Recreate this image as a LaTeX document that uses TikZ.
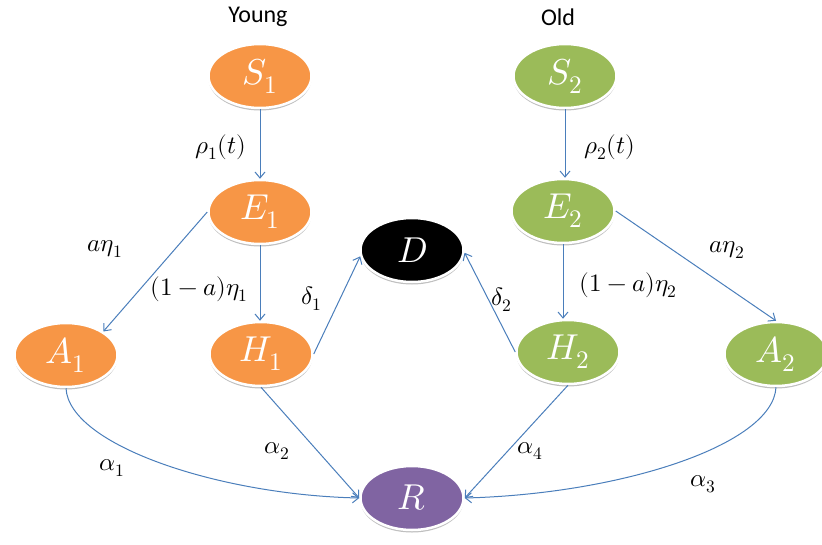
\documentclass[tikz,border=0pt]{standalone}
\usepackage{fontspec}
\usepackage{unicode-math}
\setmathfont{Latin Modern Math}
\newfontfamily\calib{Carlito}
\usetikzlibrary{shapes.geometric,arrows.meta,shadows}
\definecolor{ornj}{HTML}{F79646}
\definecolor{grn}{HTML}{9BBB59}
\definecolor{purp}{HTML}{8064A2}
\definecolor{arrowblue}{HTML}{4A7EBB}
\begin{document}
\begin{tikzpicture}[x=1pt,y=-1pt,
  state/.style={ellipse, draw=white, line width=2.5pt, minimum width=103pt, minimum height=64pt,
    inner sep=0pt, text=white, font=\fontsize{36}{42}\selectfont,
    drop shadow={shadow xshift=0pt, shadow yshift=-2.5pt, opacity=0.25, fill=black}},
  flow/.style={draw=arrowblue, line width=1pt, -{Straight Barb[length=6pt,width=10pt]}},
  lbl/.style={font=\fontsize{25}{30}\selectfont, inner sep=0pt},
  grp/.style={font=\calib\fontsize{24}{28}\selectfont, inner sep=0pt}]
\useasboundingbox (0,0) rectangle (822,544);

% group titles
\node[grp] (young) at (258,17) {Young};
\node[grp] (old) at (558,17) {Old};

% states
\node[state, fill=ornj] (S1) at (260,76) {$S_1$};
\node[state, fill=ornj] (E1) at (260,212) {$E_1$};
\node[state, fill=ornj] (A1) at (66,355) {$A_1$};
\node[state, fill=ornj] (H1) at (261,354) {$H_1$};
\node[state, fill=black] (D) at (412,250) {$D$};
\node[state, fill=purp] (R) at (412,498) {$R$};
\node[state, fill=grn] (S2) at (565,76) {$S_2$};
\node[state, fill=grn] (E2) at (563,211) {$E_2$};
\node[state, fill=grn] (H2) at (568,352) {$H_2$};
\node[state, fill=grn] (A2) at (776,354) {$A_2$};

% flows
\draw[flow] (S1) -- (E1);
\draw[flow] (E1.south) -- (E1.south |- H1.north);
\draw[flow] (E1.west) -- (A1.north east);
\draw[flow] (S2) -- (S2 |- E2.north);
\draw[flow] (E2.south) -- (E2.south |- H2.north);
\draw[flow] (E2.east) -- (A2.north);
\draw[flow] (H1.east) -- (D.187);
\draw[flow] (H2.west) -- (D.-3);
\draw[flow] (A1.south) .. controls +(3,57) and +(-140,-3) .. (R.west);
\draw[flow] (H1.south) -- (R.west);
\draw[flow] (H2.south) -- (R.east);
\draw[flow] (A2.south) .. controls +(-3,58) and +(155,-4) .. (R.east);

% rate labels
\node[lbl] (l1) at (221,147) {$\rho_1(t)$};
\node[lbl] (l2) at (610,147) {$\rho_2(t)$};
\node[lbl] (l3) at (105,249) {$a\eta_1$};
\node[lbl] (l4) at (199,289) {$(1-a)\eta_1$};
\node[lbl] (l5) at (312,299) {$\delta_1$};
\node[lbl] (l6) at (502,300) {$\delta_2$};
\node[lbl] (l7) at (628,285) {$(1-a)\eta_2$};
\node[lbl] (l8) at (727,250) {$a\eta_2$};
\node[lbl] (l9) at (112,468) {$\alpha_1$};
\node[lbl] (l10) at (277,451) {$\alpha_2$};
\node[lbl] (l11) at (530,451) {$\alpha_4$};
\node[lbl] (l12) at (703,484) {$\alpha_3$};
\end{tikzpicture}
\end{document}
